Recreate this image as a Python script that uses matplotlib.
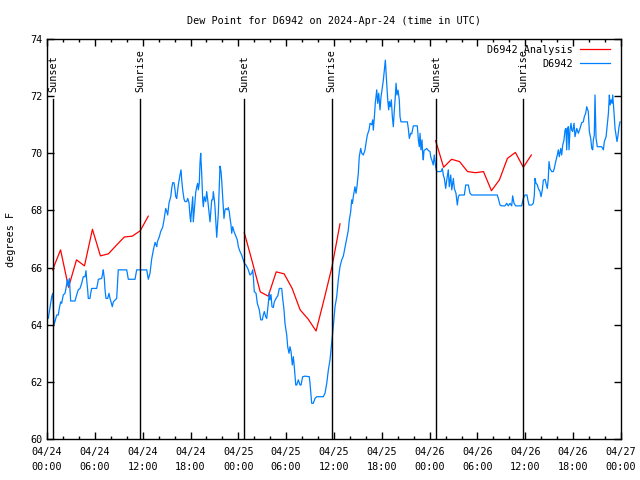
import numpy as np
import matplotlib
matplotlib.use("Agg")
import matplotlib.pyplot as plt

# hours since 2024-04-24 00:00 UTC
obs_hours = [
    0.16, 0.59, 0.72, 0.88, 1.00, 1.22, 1.42, 1.54, 1.72, 1.84, 2.04, 2.26, 2.38, 2.55, 2.67, 2.80,
    2.89, 2.97, 3.51, 3.72, 3.92, 4.14, 4.35, 4.55, 4.77, 4.89, 4.98, 5.10, 5.18, 5.39, 5.48, 5.61,
    6.23, 6.36, 6.44, 6.86, 6.99, 7.06, 7.19, 7.28, 7.40, 7.61, 7.78, 7.90, 8.03, 8.19, 8.32, 8.53,
    8.74, 8.87, 8.94, 10.00, 10.20, 11.04, 11.25, 12.51, 12.71, 12.92, 13.13, 13.33, 13.55, 13.77,
    13.84, 14.09, 14.26, 14.51, 14.68, 14.89, 15.01, 15.14, 15.30, 15.52, 15.64, 15.77, 15.93, 16.06,
    16.15, 16.27, 16.47, 16.68, 16.81, 16.90, 17.02, 17.19, 17.31, 17.52, 17.65, 17.81, 17.94, 18.02,
    18.15, 18.28, 18.35, 18.48, 18.65, 18.78, 18.90, 18.98, 19.10, 19.19, 19.28, 19.41, 19.53, 19.61,
    19.73, 19.91, 20.03, 20.16, 20.32, 20.45, 20.57, 20.66, 20.79, 20.86, 20.99, 21.07, 21.20, 21.29,
    21.36, 21.49, 21.61, 21.70, 21.83, 21.91, 22.04, 22.12, 22.20, 22.33, 22.45, 22.62, 22.74, 22.87,
    22.96, 23.08, 23.17, 23.29, 23.46, 23.71, 23.87, 24.00, 24.21, 24.42, 24.62, 24.75, 24.96, 25.18,
    25.25, 25.46, 25.68, 25.80, 25.88, 26.00, 26.22, 26.38, 26.63, 26.81, 27.01, 27.13, 27.26, 27.43,
    27.56, 27.68, 27.76, 27.89, 27.97, 28.10, 28.22, 28.39, 28.51, 28.81, 28.94, 29.14, 29.44, 29.56,
    29.73, 29.85, 30.07, 30.19, 30.36, 30.48, 30.61, 30.77, 30.90, 31.02, 31.20, 31.32, 31.52, 31.74,
    31.86, 32.07, 32.36, 32.90, 32.99, 33.20, 33.40, 33.62, 33.83, 34.66, 34.87, 35.09, 35.29, 35.50,
    35.71, 35.91, 36.13, 36.34, 36.54, 36.75, 36.97, 37.17, 37.38, 37.59, 37.79, 37.92, 38.09, 38.22,
    38.32, 38.42, 38.63, 38.76, 38.88, 39.05, 39.17, 39.35, 39.48, 39.68, 39.89, 40.01, 40.18, 40.39,
    40.52, 40.73, 40.85, 40.93, 41.05, 41.18, 41.36, 41.48, 41.61, 41.77, 41.90, 42.02, 42.19, 42.31,
    42.44, 42.53, 42.61, 42.74, 42.86, 42.94, 43.07, 43.19, 43.32, 43.44, 43.57, 43.69, 43.78, 43.90,
    44.03, 44.19, 44.28, 44.40, 45.20, 45.32, 45.45, 45.62, 45.75, 45.95, 46.45, 46.58, 46.70, 46.79,
    46.91, 47.04, 47.13, 47.20, 47.29, 47.42, 47.63, 47.83, 48.04, 48.13, 48.33, 48.45, 48.58, 48.75,
    48.88, 49.42, 49.59, 49.71, 49.84, 50.01, 50.14, 50.34, 50.46, 50.64, 50.77, 50.97, 51.09, 51.30,
    51.47, 51.60, 51.72, 52.35, 52.52, 52.85, 53.06, 53.28, 56.48, 56.61, 56.82, 57.03, 57.45, 57.66,
    57.86, 58.08, 58.29, 58.41, 58.58, 58.79, 59.54, 59.74, 59.96, 60.21, 60.30, 60.46, 60.80, 61.00,
    61.13, 61.21, 61.34, 61.50, 61.63, 61.84, 61.97, 62.13, 62.26, 62.47, 62.59, 62.76, 62.88, 62.97,
    63.09, 63.31, 63.51, 63.63, 63.81, 64.01, 64.14, 64.26, 64.44, 64.56, 64.69, 64.85, 64.98, 65.10,
    65.19, 65.27, 65.39, 65.48, 65.60, 65.73, 65.82, 65.94, 66.11, 66.23, 66.45, 66.65, 66.86, 67.07,
    67.27, 67.40, 67.57, 67.70, 67.90, 68.03, 68.20, 68.33, 68.45, 68.53, 68.65, 68.74, 68.87, 69.03,
    69.58, 69.79, 69.91, 70.13, 70.29, 70.42, 70.54, 70.63, 70.75, 70.88, 70.96, 71.13, 71.25, 71.38,
    71.50, 71.63, 71.75, 71.88,
]
obs_dewpt = [
    64.22, 64.98, 65.10, 63.99, 64.11, 64.34, 64.34, 64.57, 64.80, 64.75, 65.04, 65.10, 65.27, 65.57, 65.36, 65.62,
    65.22, 64.83, 64.83, 65.04, 65.22, 65.27, 65.45, 65.68, 65.68, 65.89, 65.57, 65.22, 64.92, 64.92, 65.10, 65.27,
    65.27, 65.45, 65.59, 65.62, 65.80, 65.92, 65.62, 65.22, 64.92, 64.92, 65.10, 64.92, 64.80, 64.63, 64.80, 64.86,
    64.92, 65.57, 65.92, 65.92, 65.59, 65.59, 65.92, 65.92, 65.59, 65.80, 66.30, 66.60, 66.88, 66.73,
    66.90, 67.08, 67.26, 67.41, 67.67, 68.07, 67.98, 67.84, 68.25, 68.48, 68.77, 68.97, 68.97, 68.72,
    68.48, 68.42, 68.89, 69.24, 69.42, 69.06, 68.72, 68.39, 68.31, 68.31, 68.42, 68.27, 67.80, 67.60,
    68.07, 68.48, 67.60, 68.02, 68.62, 68.83, 68.95, 68.72, 68.95, 69.65, 70.00, 69.24, 68.37, 68.13,
    68.48, 68.31, 68.66, 68.37, 67.95, 67.60, 68.02, 68.37, 68.37, 68.66, 68.37, 68.13, 67.49, 67.06,
    67.37, 67.90, 68.83, 69.55, 69.36, 69.06, 68.48, 68.07, 67.72, 68.02, 68.07, 68.02, 68.10, 67.95,
    67.72, 67.49, 67.20, 67.43, 67.26, 67.08, 66.97, 66.73, 66.56, 66.44, 66.27, 66.15, 66.09, 65.97,
    65.92, 65.74, 65.80, 65.92, 65.68, 65.16, 65.10, 64.75, 64.52, 64.17, 64.17, 64.34, 64.46, 64.28,
    64.22, 64.52, 64.75, 65.12, 64.87, 65.05, 64.63, 64.60, 64.80, 64.96, 65.00, 65.27, 65.27, 64.92,
    64.52, 64.05, 63.64, 63.23, 63.00, 63.23, 63.06, 62.59, 62.88, 62.53, 61.89, 61.89, 62.07, 61.89,
    61.89, 62.18, 62.20, 62.18, 61.95, 61.25, 61.25, 61.42, 61.48, 61.48, 61.60, 61.95, 62.41, 62.77,
    63.35, 63.93, 64.63, 64.98, 65.57, 66.03, 66.27, 66.40, 66.70, 67.00, 67.30, 67.67, 67.95, 68.37,
    68.25, 68.48, 68.83, 68.60, 68.83, 69.30, 69.88, 70.17, 70.00, 69.94, 70.12, 70.35, 70.64, 70.81,
    71.05, 71.00, 71.17, 70.81, 71.22, 71.75, 72.22, 71.75, 72.10, 71.52, 71.98, 72.21, 72.56, 72.91,
    73.26, 72.80, 72.45, 71.87, 71.52, 71.81, 71.63, 71.87, 71.28, 70.93, 71.52, 71.98, 72.45, 72.04,
    72.21, 71.87, 71.28, 71.10, 71.10, 70.87, 70.52, 70.70, 70.68, 70.96, 70.96, 70.47, 70.23, 70.70,
    70.12, 70.47, 69.94, 69.77, 70.10, 70.12, 70.17, 70.10, 70.06, 69.88, 69.71, 69.59, 69.94, 69.53,
    69.36, 69.36, 69.47, 69.24, 69.12, 68.77, 69.06, 69.42, 68.83, 69.24, 68.72, 69.12, 68.77, 68.60,
    68.19, 68.48, 68.54, 68.54, 68.89, 68.89, 68.60, 68.54, 68.54, 68.42, 68.19, 68.16, 68.16, 68.25,
    68.16, 68.25, 68.16, 68.51, 68.25, 68.16, 68.16, 68.42, 68.54, 68.54, 68.39, 68.19, 68.19, 68.25,
    68.54, 69.12, 68.95, 68.90, 68.77, 68.66, 68.48, 68.72, 69.06, 69.09, 68.95, 68.77, 69.12, 69.71,
    69.47, 69.36, 69.36, 69.47, 69.71, 69.94, 70.12, 69.88, 70.17, 69.94, 70.29, 70.47, 70.81, 70.87,
    70.12, 70.81, 70.93, 70.12, 70.81, 71.05, 70.81, 70.76, 71.05, 70.58, 70.87, 70.70, 70.87, 71.07,
    71.10, 71.28, 71.40, 71.63, 71.46, 70.76, 70.52, 70.17, 70.12, 70.47, 70.64, 72.04, 70.52, 70.23,
    70.23, 70.12, 70.41, 70.58, 71.05, 71.40, 72.04, 71.69, 71.87, 71.75, 72.04, 71.40, 70.87, 70.64,
    70.41, 70.64, 70.93, 71.10,
]

# analysis, hourly, three pieces
ana1_hours = [0.70, 1.70, 2.70, 3.70, 4.70, 5.70, 6.70, 7.70, 8.70, 9.70, 10.70, 11.70, 12.70]
ana1_dewpt = [65.92, 66.62, 65.31, 66.27, 66.06, 67.34, 66.41, 66.48, 66.78, 67.07, 67.10, 67.29, 67.80]
ana2_hours = [24.75, 25.75, 26.75, 27.75, 28.75, 29.75, 30.75, 31.75, 32.75, 33.75, 34.75, 35.75, 36.75]
ana2_dewpt = [67.22, 66.20, 65.15, 65.00, 65.85, 65.78, 65.27, 64.52, 64.20, 63.78, 64.88, 66.03, 67.53]
ana3_hours = [48.75, 49.75, 50.75, 51.75, 52.75, 53.75, 54.75, 55.75, 56.75, 57.75, 58.75, 59.75, 60.75]
ana3_dewpt = [70.44, 69.51, 69.79, 69.71, 69.36, 69.32, 69.36, 68.69, 69.07, 69.82, 70.03, 69.51, 69.94]

sun_hours = [0.79, 11.67, 24.75, 35.72, 48.85, 59.76]
sun_names = ["Sunset", "Sunrise", "Sunset", "Sunrise", "Sunset", "Sunrise"]

tick_hours = list(range(0, 73, 6))
tick_labels = ["04/%d\n%02d:00" % (24 + h // 24, h % 24) for h in tick_hours]

plt.rcParams['font.family'] = ['DejaVu Sans Mono']
fs = 7.3

fig = plt.figure(figsize=(6.4, 4.8), dpi=100)
ax = fig.add_axes([47 / 640, 1 - 439 / 480, 574 / 640, 400 / 480])

red = '#ff0000'
blue = '#0080ff'
ax.plot(ana1_hours, ana1_dewpt, color=red, lw=0.9, label='D6942 Analysis')
ax.plot(ana2_hours, ana2_dewpt, color=red, lw=0.9)
ax.plot(ana3_hours, ana3_dewpt, color=red, lw=0.9)
ax.plot(obs_hours, obs_dewpt, color=blue, lw=0.9, label='D6942')

for t, name in zip(sun_hours, sun_names):
    ax.plot([t, t], [60, 71.9], color='black', lw=1.0)
    ax.text(t, 72.15, name, rotation=90, ha='center', va='bottom', fontsize=fs)

ax.set_xlim(0, 72)
ax.set_ylim(60, 74)
ax.set_xticks(tick_hours)
ax.set_xticklabels(tick_labels, fontsize=fs, linespacing=1.6)
ax.set_xticks(np.arange(0, 73, 2), minor=True)
ax.set_yticks(np.arange(60, 75, 2))
ax.tick_params(axis='y', labelsize=fs)
ax.tick_params(which='both', direction='in', top=True, right=True, width=1)
ax.tick_params(which='major', length=5)
ax.tick_params(which='minor', length=2.5)
ax.tick_params(axis='x', pad=6)
for s in ax.spines.values():
    s.set_linewidth(1)

ax.set_ylabel('degrees F', fontsize=fs, labelpad=10)
ax.set_title('Dew Point for D6942 on 2024-Apr-24 (time in UTC)', fontsize=fs, pad=11)

ax.legend(loc='upper right', bbox_to_anchor=(0.981, 0.986), fontsize=fs, frameon=False,
          markerfirst=False, handlelength=3, borderaxespad=0, borderpad=0,
          labelspacing=0.4, handletextpad=0.7)

fig.savefig('out.png', dpi=100)
